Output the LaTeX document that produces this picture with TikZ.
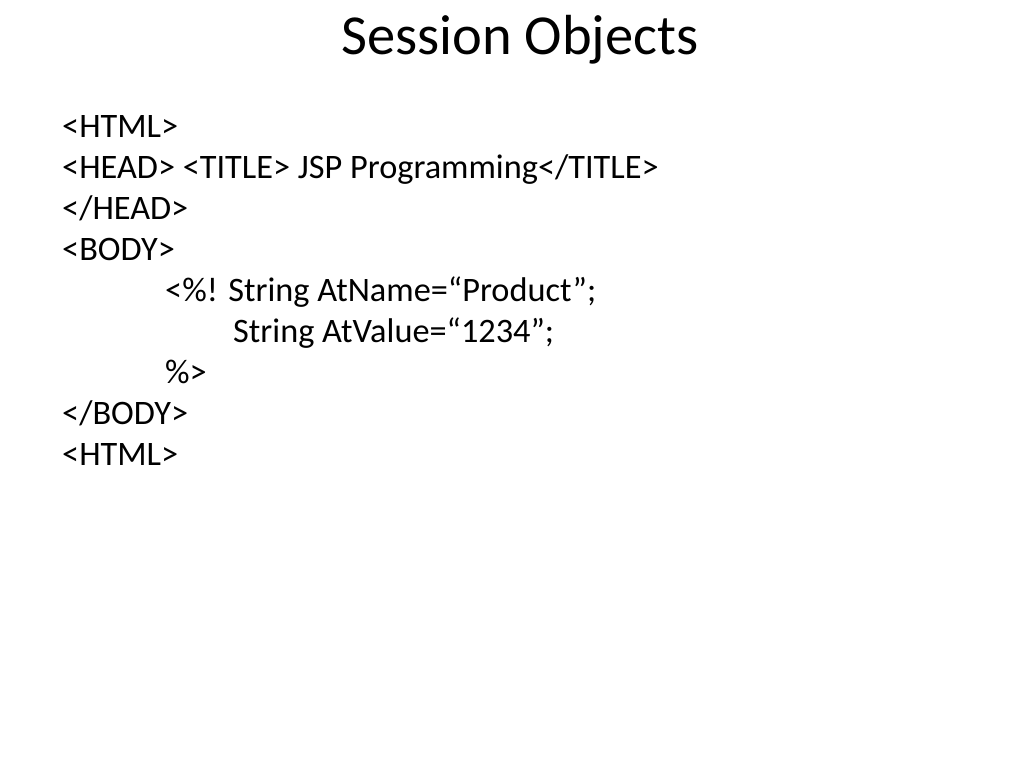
\documentclass[tikz,border=0pt]{standalone}
\usepackage{fontspec}
\setmainfont{Carlito}
\begin{document}
\begin{tikzpicture}[x=1pt,y=-1pt,
  line/.style={anchor=base west,inner sep=0pt,font=\fontsize{34.3}{36}\selectfont}]
\useasboundingbox (0,0) rectangle (1024,768);
\node[anchor=base,inner sep=0pt,font=\fontsize{56.5}{60}\selectfont] (title) at (520,55) {Session Objects};
\node[line] (l1) at (62,137) {<HTML>};
\node[line] (l2) at (62,178) {<HEAD> <TITLE> JSP Programming</TITLE>};
\node[line] (l3) at (62,219) {</HEAD>};
\node[line] (l4) at (62,260) {<BODY>};
\node[line] (l5) at (165,301) {<\%! String AtName=“Product”;};
\node[line] (l6) at (233,342) {String AtValue=“1234”;};
\node[line] (l7) at (165,383) {\%>};
\node[line] (l8) at (62,424) {</BODY>};
\node[line] (l9) at (62,465) {<HTML>};
\end{tikzpicture}
\end{document}
